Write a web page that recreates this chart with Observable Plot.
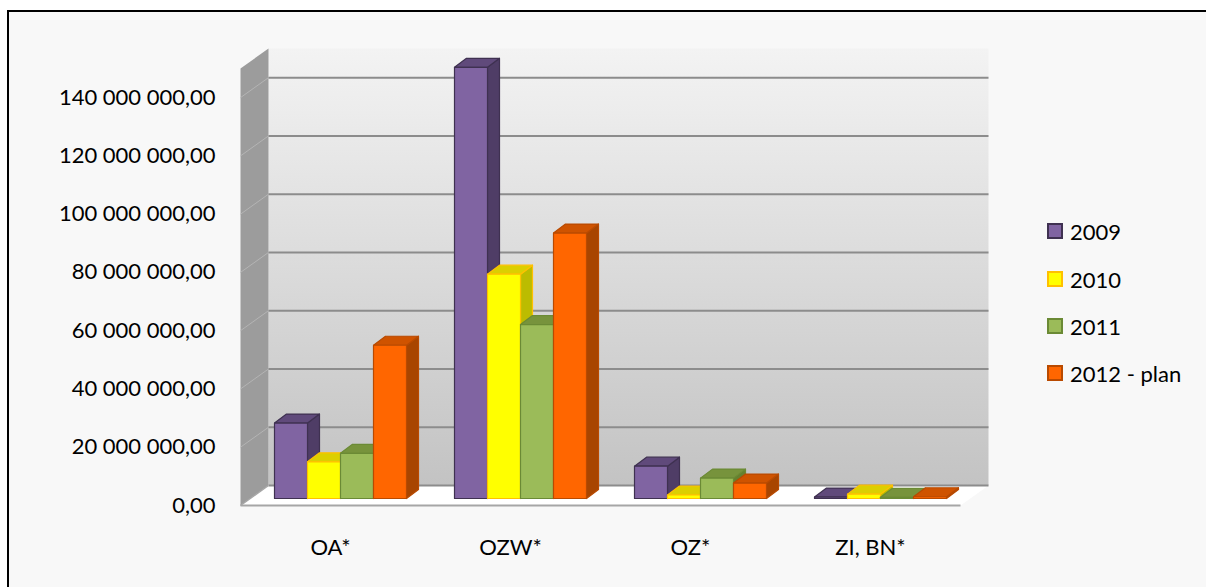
<!DOCTYPE html>
<html><head><meta charset="utf-8">
<script src="https://cdn.jsdelivr.net/npm/d3@7"></script>
<script src="https://cdn.jsdelivr.net/npm/@observablehq/plot@0.6"></script>
<style>
html,body{margin:0;padding:0;background:#fff;overflow:hidden;width:1206px;height:587px;}
#frame{position:absolute;left:7px;top:10px;width:1199px;height:577px;background:#f8f8f8;border-top:2px solid #000;border-left:2px solid #000;box-sizing:border-box;}
#chart{position:absolute;left:0;top:0;}
#legend{position:absolute;left:0;top:0;font-family:Lato,"Open Sans",sans-serif;font-size:22px;color:#000;}
.item{position:absolute;display:flex;align-items:center;white-space:nowrap;height:24px;}
.sw{width:12px;height:12px;border:2px solid;margin-right:7px;}
</style></head><body>
<div id="frame"></div><div id="chart"></div><div id="legend"></div>
<script>
// ---- data ----
const categories = ["OA*", "OZW*", "OZ*", "ZI, BN*"];
const seriesNames = ["2009", "2010", "2011", "2012 - plan"];
const values2009 = [25.9e6, 148.0e6, 11.1e6, 0.5e6];
const values2010 = [12.6e6, 77.0e6, 1.2e6, 1.5e6];
const values2011 = [15.5e6, 59.7e6, 7.0e6, 0.4e6];
const values2012 = [52.6e6, 91.1e6, 5.3e6, 0.6e6];
const yTicks = [0, 20e6, 40e6, 60e6, 80e6, 100e6, 120e6, 140e6];

// ---- styles ----
const frontColors = ["#8064a2", "#ffff00", "#9bbb59", "#ff6600"];
const topColors   = ["#604a7b", "#dccf00", "#77933c", "#cf5300"];
const sideColors  = ["#4f3d66", "#bcbc00", "#66802f", "#a84500"];
const edgeColors  = ["#3f3151", "#ffc000", "#6b8a35", "#b94a00"];

// ---- layout ----
const W = 1206, H = 587;
const mL = 240, mR = 246, mT = 68, mB = 82;
const xMax = categories.length, yMax = 150e6;
const ux = xMax / (W - mL - mR);         // data units per px (x)
const uy = yMax / (H - mT - mB);         // data units per px (y)
const WX = 28 * ux, WY = 20 * uy;        // wall depth
const BX0 = 10 * ux, BY0 = 7 * uy;       // bar row depth position
const BX = 12 * ux, BY = 9 * uy;         // bar depth
const inner = d3.scaleBand().domain(seriesNames).range([24 / 180, 156 / 180]);

const allValues = [values2009, values2010, values2011, values2012];

// walls
const walls = [];
let pid = 0;
function poly(arr, pts, fill, stroke) {
  const id = pid++;
  for (const [x, y] of pts) arr.push({id, x, y, fill, stroke});
}
poly(walls, [[WX, WY], [WX, yMax + WY], [xMax + WX, yMax + WY], [xMax + WX, WY]], "url(#wallGrad)", "none");
poly(walls, [[0, 0], [0, yMax], [WX, yMax + WY], [WX, WY]], "#9c9c9c", "none");
poly(walls, [[0, 0], [xMax, 0], [xMax + WX, WY], [WX, WY]], "#ffffff", "none");

// gridlines
const backGrid = yTicks.map(v => ({x1: WX, y1: v + WY, x2: xMax + WX, y2: v + WY}));
const sideGrid = yTicks.filter(v => v > 0).map(v => ({x1: 0, y1: v, x2: WX, y2: v + WY}));

// bars (ordered left to right: side, top, front)
const bars = [];
categories.forEach((c, i) => {
  seriesNames.forEach((s, j) => {
    const v = allValues[j][i];
    const x1 = i + inner(s) + BX0, x2 = x1 + inner.bandwidth();
    const y0 = BY0, y1 = v + BY0;
    poly(bars, [[x2, y0], [x2, y1], [x2 + BX, y1 + BY], [x2 + BX, y0 + BY]], sideColors[j], edgeColors[j]);
    poly(bars, [[x1, y1], [x2, y1], [x2 + BX, y1 + BY], [x1 + BX, y1 + BY]], topColors[j], edgeColors[j]);
    poly(bars, [[x1, y0], [x1, y1], [x2, y1], [x2, y0]], frontColors[j], edgeColors[j]);
  });
});

const loc = d3.formatLocale({decimal: ",", thousands: " ", grouping: [3], currency: ["", ""]});
const fmt = loc.format(",.2f");

const chart = Plot.plot({
  width: W, height: H,
  marginLeft: mL, marginRight: mR, marginTop: mT, marginBottom: mB,
  x: {domain: [0, xMax], axis: null},
  y: {domain: [0, yMax], axis: null},
  color: {type: "identity"},
  style: {background: "transparent", fontFamily: "Lato, 'Open Sans', sans-serif", fontSize: "22px", color: "#000", overflow: "visible"},
  marks: [
    Plot.line(walls, {x: "x", y: "y", z: "id", fill: "fill", stroke: "stroke", curve: "linear-closed"}),
    Plot.link(sideGrid, {x1: "x1", y1: "y1", x2: "x2", y2: "y2", stroke: "#b4b4b4", strokeWidth: 1}),
    Plot.link(backGrid, {x1: "x1", y1: "y1", x2: "x2", y2: "y2", stroke: "#8c8c8c", strokeWidth: 2}),
    Plot.link([{x1: 0, y1: 0, x2: WX, y2: WY}], {x1: "x1", y1: "y1", x2: "x2", y2: "y2", stroke: "#a6a6a6", strokeWidth: 1.5}),
    Plot.link([{x1: 0, y1: 0, x2: xMax, y2: 0}], {x1: "x1", y1: "y1", x2: "x2", y2: "y2", stroke: "#a6a6a6", strokeWidth: 2}),
    Plot.line(bars, {x: "x", y: "y", z: "id", fill: "fill", stroke: "stroke", strokeWidth: 1.2, curve: "linear-closed"}),
    Plot.axisY(yTicks, {tickSize: 0, tickPadding: 25, tickFormat: fmt, fontSize: 22, fill: "#000"}),
    Plot.text(categories, {x: (d, i) => i + 0.5, y: 0, dy: 42, text: d => d, fontSize: 22, fill: "#000"})
  ]
});

const ns = "http://www.w3.org/2000/svg";
const defs = document.createElementNS(ns, "defs");
const grad = document.createElementNS(ns, "linearGradient");
grad.setAttribute("id", "wallGrad");
grad.setAttribute("x1", "0"); grad.setAttribute("y1", "0");
grad.setAttribute("x2", "0"); grad.setAttribute("y2", "1");
[["0", "#f3f3f3"], ["1", "#c3c3c3"]].forEach(([o, c]) => {
  const st = document.createElementNS(ns, "stop");
  st.setAttribute("offset", o); st.setAttribute("stop-color", c);
  grad.appendChild(st);
});
defs.appendChild(grad);
chart.insertBefore(defs, chart.firstChild);
document.getElementById("chart").appendChild(chart);

// legend
const legend = document.getElementById("legend");
const legendTops = [231, 279, 326, 373];
seriesNames.forEach((s, j) => {
  const item = document.createElement("div");
  item.className = "item";
  item.style.left = "1047px";
  item.style.top = (legendTops[j] - 12) + "px";
  const sw = document.createElement("span");
  sw.className = "sw";
  sw.style.background = frontColors[j];
  sw.style.borderColor = edgeColors[j];
  const t = document.createElement("span");
  t.textContent = s;
  item.appendChild(sw); item.appendChild(t);
  legend.appendChild(item);
});
</script>
</body></html>
